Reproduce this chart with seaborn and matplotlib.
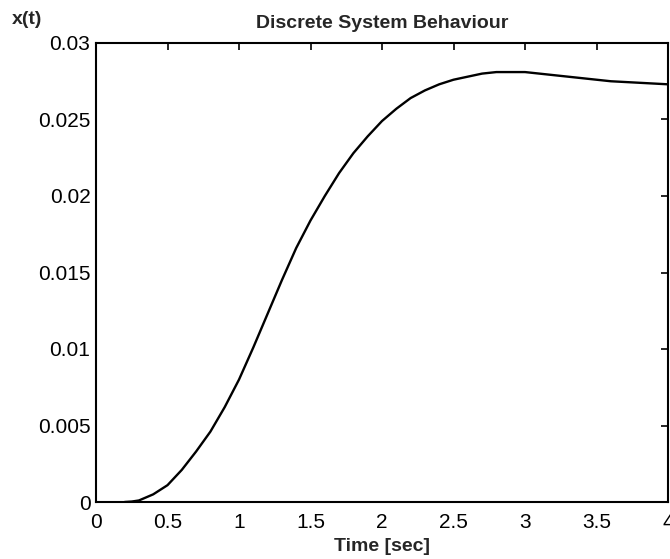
import matplotlib
matplotlib.use("Agg")
import matplotlib.pyplot as plt
import seaborn as sns
import pandas as pd

# ---- data ----
time_sec = [0.2, 0.25, 0.3, 0.4, 0.5, 0.6, 0.7, 0.8, 0.9, 1.0, 1.1, 1.2, 1.3,
            1.4, 1.5, 1.6, 1.7, 1.8, 1.9, 2.0, 2.1, 2.2, 2.3, 2.4, 2.5, 2.6,
            2.7, 2.8, 2.9, 3.0, 3.2, 3.4, 3.6, 3.8, 4.0]
x_t = [0.0, 0.00003, 0.0001, 0.0005, 0.0011, 0.0021, 0.0033, 0.0046, 0.0062,
       0.0080, 0.0101, 0.0123, 0.0145, 0.0166, 0.0184, 0.0200, 0.0215,
       0.0228, 0.0239, 0.0249, 0.0257, 0.0264, 0.0269, 0.0273, 0.0276,
       0.0278, 0.0280, 0.0281, 0.0281, 0.0281, 0.0279, 0.0277, 0.0275,
       0.0274, 0.0273]
xticks = [0, 0.5, 1, 1.5, 2, 2.5, 3, 3.5, 4]
xtick_labels = ["0", "0.5", "1", "1.5", "2", "2.5", "3", "3.5", "4"]
yticks = [0, 0.005, 0.01, 0.015, 0.02, 0.025, 0.03]
ytick_labels = ["0", "0.005", "0.01", "0.015", "0.02", "0.025", "0.03"]
title = "Discrete System Behaviour"
xlabel = "Time [sec]"
ylabel = "x(t)"

df = pd.DataFrame({"t": time_sec, "x": x_t})

sns.set_style("white")
plt.rcParams["font.family"] = ["Liberation Sans", "DejaVu Sans"]

fig = plt.figure(figsize=(6.70, 5.59), dpi=100)
ax = fig.add_axes([96 / 670, 1 - 502 / 559, (668 - 96) / 670, (502 - 43) / 559])

sns.lineplot(data=df, x="t", y="x", ax=ax, color="black", linewidth=1.7)

ax.set_xlim(0, 4)
ax.set_ylim(0, 0.03)
ax.set_xticks(xticks)
ax.set_xticklabels(xtick_labels)
ax.set_yticks(yticks)
ax.set_yticklabels(ytick_labels)
ax.tick_params(direction="in", length=5, width=1.2, top=True, right=True,
               labelsize=15, colors="black")
ax.tick_params(axis="x", pad=8)
ax.tick_params(axis="y", pad=4)
for s in ax.spines.values():
    s.set_visible(True)
    s.set_color("black")
    s.set_linewidth(1.5)

ax.set_title(title, fontsize=14, fontweight="bold", pad=11)
ax.set_xlabel(xlabel, fontsize=14, fontweight="bold", labelpad=4)
ax.set_ylabel("")
fig.text(12 / 670, 1 - 19 / 559, ylabel, fontsize=14, fontweight="bold",
         ha="left", va="center")

fig.savefig("out.png", dpi=100)
